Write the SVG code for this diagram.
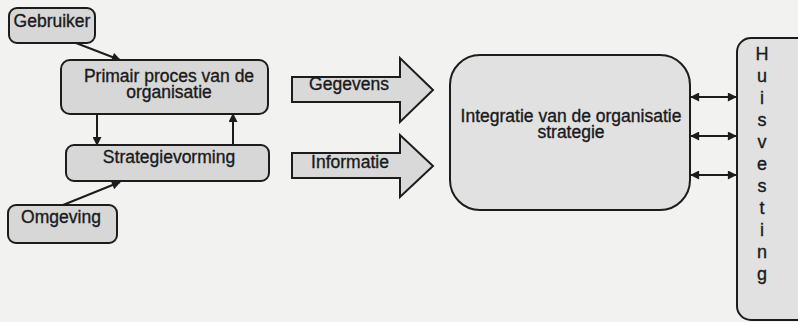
<svg xmlns="http://www.w3.org/2000/svg" width="798" height="322" viewBox="0 0 798 322">
  <style>
    .box { fill: #d7d7d7; stroke: #1c1c1c; stroke-width: 2; }
    .big { fill: #e1e1e1; stroke: #1c1c1c; stroke-width: 2; }
    .block { fill: #d9d9d9; stroke: #1c1c1c; stroke-width: 2; stroke-linejoin: miter; }
    .line { stroke: #1c1c1c; stroke-width: 2; fill: none; }
    text { font-family: "Liberation Sans", Arial, sans-serif; font-size: 17.5px; fill: #1a1a1a; stroke: #1a1a1a; stroke-width: 0.35px; text-anchor: middle; }
    .v { font-size: 18px; }
  </style>
  <defs>
    <marker id="head" viewBox="0 0 10 10" refX="9" refY="5" markerWidth="10" markerHeight="9" markerUnits="userSpaceOnUse" orient="auto-start-reverse">
      <path d="M0,0 L10,5 L0,10 Z" fill="#1c1c1c"/>
    </marker>
  </defs>

  <rect width="798" height="322" fill="#f2f2f0"/>

  <!-- connectors -->
  <g id="connectors">
    <line class="line" x1="76" y1="43" x2="120" y2="60" marker-end="url(#head)"/>
    <line class="line" x1="97" y1="114" x2="97" y2="145" marker-end="url(#head)"/>
    <line class="line" x1="233" y1="145" x2="233" y2="114" marker-end="url(#head)"/>
    <line class="line" x1="63" y1="205" x2="120" y2="182" marker-end="url(#head)"/>
    <line class="line" x1="691" y1="97" x2="736" y2="97" marker-start="url(#head)" marker-end="url(#head)"/>
    <line class="line" x1="691" y1="136" x2="736" y2="136" marker-start="url(#head)" marker-end="url(#head)"/>
    <line class="line" x1="691" y1="175" x2="736" y2="175" marker-start="url(#head)" marker-end="url(#head)"/>
  </g>

  <g id="gebruiker">
    <rect class="box" x="9" y="8" width="86" height="35" rx="8"/>
    <text x="52" y="27">Gebruiker</text>
  </g>

  <g id="primair-proces">
    <rect class="box" x="61" y="60" width="207" height="54" rx="9"/>
    <text x="169" y="82">Primair proces van de</text>
    <text x="169" y="98">organisatie</text>
  </g>

  <g id="strategievorming">
    <rect class="box" x="66" y="145" width="203" height="36" rx="8"/>
    <text x="169" y="163">Strategievorming</text>
  </g>

  <g id="omgeving">
    <rect class="box" x="8" y="205" width="109" height="38" rx="8"/>
    <text x="61" y="223">Omgeving</text>
  </g>

  <g id="gegevens">
    <polygon class="block" points="292,77 400,77 400,58 433,90 400,122 400,102 292,102"/>
    <text x="349" y="90">Gegevens</text>
  </g>

  <g id="informatie">
    <polygon class="block" points="292,153 400,153 400,135 433,166 400,197 400,178 292,178"/>
    <text x="350" y="168">Informatie</text>
  </g>

  <g id="integratie">
    <rect class="big" x="450" y="55" width="240" height="155" rx="30"/>
    <text x="571" y="122">Integratie van de organisatie</text>
    <text x="571" y="138">strategie</text>
  </g>

  <g id="huisvesting">
    <rect class="big" x="737" y="38" width="76" height="282" rx="14"/>
    <text class="v" x="762" y="60">H</text>
    <text class="v" x="762" y="82">u</text>
    <text class="v" x="762" y="104">i</text>
    <text class="v" x="762" y="126">s</text>
    <text class="v" x="762" y="148">v</text>
    <text class="v" x="762" y="170">e</text>
    <text class="v" x="762" y="192">s</text>
    <text class="v" x="762" y="214">t</text>
    <text class="v" x="762" y="236">i</text>
    <text class="v" x="762" y="258">n</text>
    <text class="v" x="762" y="280">g</text>
  </g>
</svg>
